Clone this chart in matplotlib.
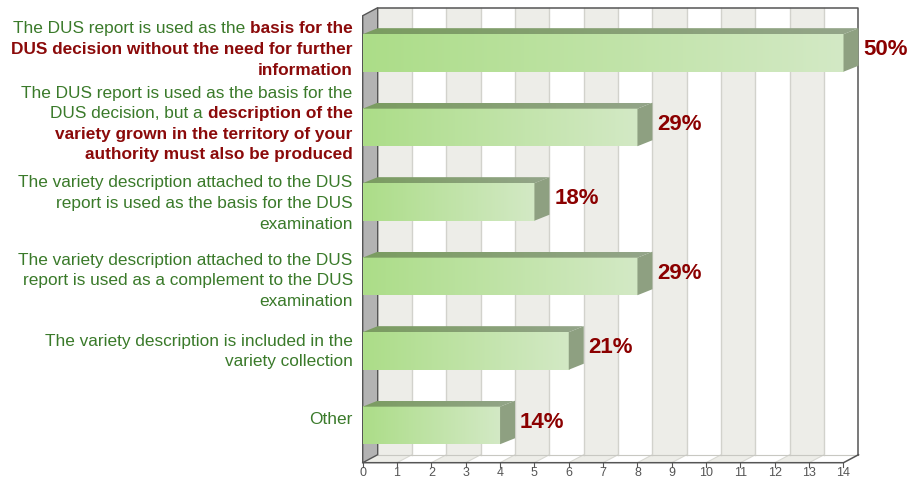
import matplotlib
matplotlib.use("Agg")
import matplotlib.pyplot as plt
import numpy as np
from matplotlib.patches import Polygon
from matplotlib.transforms import IdentityTransform
from matplotlib.colors import to_rgb

# data
counts = [14, 8, 5, 8, 6, 4]
pct_labels = ["50%", "29%", "18%", "29%", "21%", "14%"]
# each label: list of lines, each line a list of (text, bold)
cat_labels = [
    [[("The DUS report is used as the", 0), ("basis for the", 1)],
     [("DUS decision without the need for further", 1)],
     [("information", 1)]],
    [[("The DUS report is used as the basis for the", 0)],
     [("DUS decision, but a", 0), ("description of the", 1)],
     [("variety grown in the territory of your", 1)],
     [("authority must also be produced", 1)]],
    [[("The variety description attached to the DUS", 0)],
     [("report is used as the basis for the DUS", 0)],
     [("examination", 0)]],
    [[("The variety description attached to the DUS", 0)],
     [("report is used as a complement to the DUS", 0)],
     [("examination", 0)]],
    [[("The variety description is included in the", 0)],
     [("variety collection", 0)]],
    [[("Other", 0)]],
]
xmax = 14

W, H = 911, 478
fig = plt.figure(figsize=(W / 100, H / 100), dpi=100)
x0, x1, y0, y1 = 362.7, 843.5, 15.7, 462.7   # front plane in pixels
ax = fig.add_axes([x0 / W, 1 - y1 / H, (x1 - x0) / W, (y1 - y0) / H])
ax.axis("off")

sx = (x1 - x0) / xmax
sy = (y1 - y0) / 6.0
DX = 15 / sx
DYW = 8 / sy
DYB = 6 / sy
ytop, ybot = -0.5, 5.5
edge = "#555555"

# back wall bands
for k in range(xmax):
    col = "#ededE8" if k % 2 == 0 else "#ffffff"
    ax.add_patch(Polygon([(k + DX, ytop - DYW), (k + 1 + DX, ytop - DYW),
                          (k + 1 + DX, ybot - DYW), (k + DX, ybot - DYW)],
                         closed=True, fc=col, ec="none", zorder=1, clip_on=False))
    # floor band
    ax.add_patch(Polygon([(k, ybot), (k + 1, ybot), (k + 1 + DX, ybot - DYW), (k + DX, ybot - DYW)],
                         closed=True, fc=col, ec="none", zorder=1, clip_on=False))
for k in range(1, xmax):
    ax.plot([k + DX, k + DX], [ytop - DYW, ybot - DYW], color="#d2d2cc", lw=1, zorder=2, clip_on=False)
    ax.plot([k, k + DX], [ybot, ybot - DYW], color="#d8d8d2", lw=0.8, zorder=2, clip_on=False)
ax.plot([DX, xmax + DX], [ybot - DYW, ybot - DYW], color="#c8c8c2", lw=0.8, zorder=2, clip_on=False)

# left side wall
ax.add_patch(Polygon([(0, ytop), (DX, ytop - DYW), (DX, ybot - DYW), (0, ybot)],
                     closed=True, fc="#b3b3b3", ec=edge, lw=1.0, zorder=3, clip_on=False))
# outlines
ax.plot([DX, xmax + DX, xmax + DX], [ytop - DYW, ytop - DYW, ybot - DYW], color=edge, lw=1.1, zorder=3, clip_on=False)
ax.plot([0, xmax, xmax + DX], [ybot, ybot, ybot - DYW], color=edge, lw=1.1, zorder=3, clip_on=False)

# bars
front_l, front_r = np.array(to_rgb("#acdd88")), np.array(to_rgb("#d3e9c5"))
top_l, top_r = np.array(to_rgb("#7a9c60")), np.array(to_rgb("#94a58a"))
g = np.linspace(0, 1, 256)[None, :, None]
front_grad = front_l + (front_r - front_l) * g
top_grad = top_l + (top_r - top_l) * g
hb = 0.252
for i, v in enumerate(counts):
    ax.imshow(front_grad, extent=(0, v, i + hb, i - hb), aspect="auto", zorder=5, interpolation="bilinear")
    tp = Polygon([(0, i - hb), (v, i - hb), (v + DX, i - hb - DYB), (DX, i - hb - DYB)],
                 closed=True, fc="none", ec="none", zorder=5, transform=ax.transData)
    ax.add_patch(tp)
    im = ax.imshow(top_grad, extent=(0, v + DX, i - hb, i - hb - DYB), aspect="auto", zorder=5,
                   interpolation="bilinear")
    im.set_clip_path(tp)
    im.set_clip_box(fig.bbox)
    ax.add_patch(Polygon([(v, i - hb), (v + DX, i - hb - DYB), (v + DX, i + hb - DYB), (v, i + hb)],
                         closed=True, fc="#8ea081", ec="none", zorder=6, clip_on=False))
    ax.annotate(pct_labels[i], xy=(v + DX, i - DYB / 2), xytext=(3.5, 0), textcoords="offset points",
                ha="left", va="center", fontsize=16, fontweight="bold", color="#8b0000",
                family="Liberation Sans", zorder=7, annotation_clip=False)

# x ticks
for k in range(xmax + 1):
    ax.plot([k, k], [ybot, ybot + 4 / sy], color=edge, lw=0.8, clip_on=False, zorder=3)
    ax.text(k, ybot + 10 / sy, str(k), ha="center", va="center", fontsize=9, color="#555555",
            family="Liberation Sans", clip_on=False)

ax.set_xlim(0, xmax)
ax.set_ylim(ybot, ytop)

# category labels with mixed styles
renderer = fig.canvas.get_renderer()
fs = 12.4
space_w = 0.278 * fs * 100 / 72
line_h = 20.6
nudge = [-5, -5, 0, 3, -1, -7.5]
right = 352.7
for i, lines in enumerate(cat_labels):
    cy = ax.transData.transform((0, i))[1] - nudge[i]
    n = len(lines)
    for j, segs in enumerate(lines):
        ly = cy + ((n - 1) / 2 - j) * line_h
        x = right
        for s, (txt, bold) in enumerate(reversed(segs)):
            t = fig.text(x, ly, txt, ha="right", va="center_baseline", transform=IdentityTransform(),
                         fontsize=fs, family="Liberation Sans",
                         fontweight="bold" if bold else "normal",
                         color="#8b0a0a" if bold else "#3a7a2a")
            x -= t.get_window_extent(renderer).width + space_w

fig.savefig("out.png", dpi=100)
